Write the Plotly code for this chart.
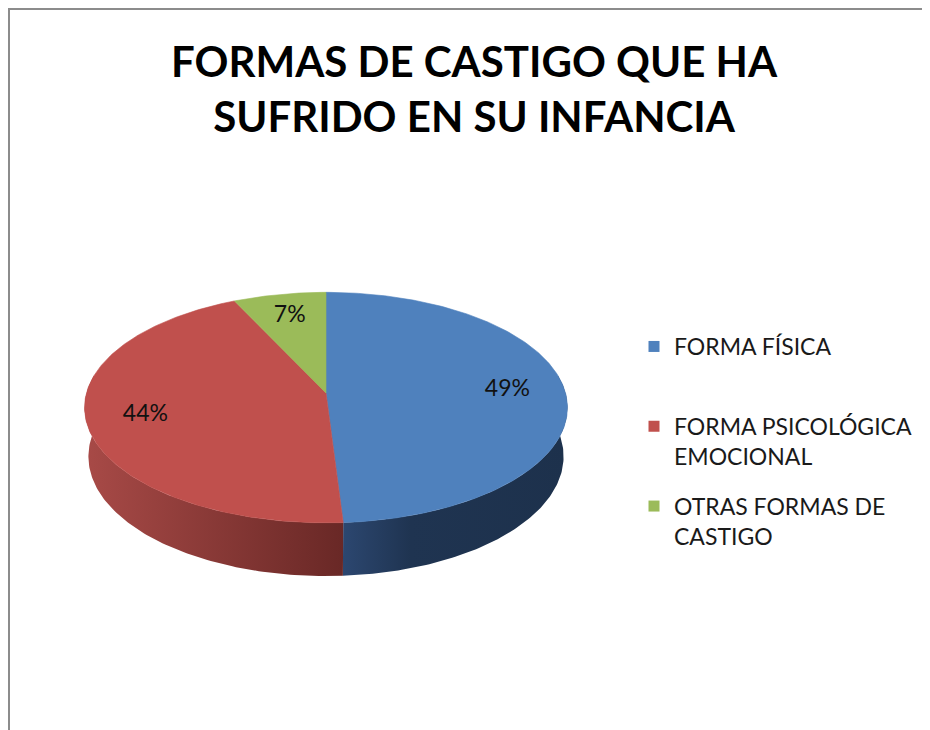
import numpy as np
import plotly.graph_objects as go

# ---------------- data ----------------
categories = ["FORMA FÍSICA", "FORMA PSICOLÓGICA EMOCIONAL", "OTRAS FORMAS DE CASTIGO"]
legend_labels = ["FORMA FÍSICA<br> ", "FORMA PSICOLÓGICA<br>EMOCIONAL", "OTRAS FORMAS DE<br>CASTIGO"]
values = [49, 44, 7]
title_text = "FORMAS DE CASTIGO QUE HA<br>SUFRIDO EN SU INFANCIA"

top_colors = ["#4F81BD", "#C0504D", "#9BBB59"]
side_scales = [
    [[0, "#2C4770"], [0.3, "#1F3451"], [1, "#1D314C"]],
    [[0, "#A84A47"], [1, "#692826"]],
    [[0, "#6E8A3C"], [1, "#4E6429"]],
]

# ---------------- 3D pie geometry (layout, pixels) ----------------
CX, CY = 326.0, 393.0         # projected pie centre
A = 239.5                     # projected radius scale
SIN_A, COS_A = 0.4735, 0.881  # view elevation
U = 0.1437                    # perspective strength (R / camera distance)
ETA = 0.234                   # pie thickness relative to radius
LABEL_R = 0.76

# page offset (browser body margin) and usable area
OFF = 8
X_END, Y_END = 930, 730


def proj(theta, r=1.0, depth=0.0):
    X = r * np.sin(theta)
    Z = r * np.cos(theta)
    Y = -depth
    den = 1 + U * (-Y * SIN_A + Z * COS_A)
    up = Y * COS_A + Z * SIN_A
    return CX + A * X / den, CY - A * up / den


total = float(sum(values))
fracs = [v / total for v in values]
starts = np.concatenate([[0.0], np.cumsum(fracs)[:-1]]) * 2 * np.pi
ends = np.cumsum(fracs) * 2 * np.pi

fig = go.Figure()

# chart-area frame (left and top edges visible in the crop)
fig.add_trace(go.Scatter(
    x=[9, 9, X_END + 20], y=[Y_END + 20, 9, 9], mode="lines",
    line=dict(color="#8C8C8C", width=2), showlegend=False, hoverinfo="skip",
    cliponaxis=True))

# side walls (front part only)
vis_lo, vis_hi = 0.45 * np.pi, 1.55 * np.pi
for i in range(len(values)):
    a0, a1 = max(starts[i], vis_lo), min(ends[i], vis_hi)
    if a1 <= a0:
        continue
    th = np.linspace(a0, a1, 120)
    tx, ty = proj(th)
    bx, by = proj(th[::-1], depth=ETA)
    xs = np.concatenate([tx, bx, tx[:1]])
    ys = np.concatenate([ty, by, ty[:1]])
    fig.add_trace(go.Scatter(
        x=xs, y=ys, mode="lines", fill="toself",
        line=dict(width=0, color=side_scales[i][-1][1]),
        fillgradient=dict(type="horizontal", colorscale=side_scales[i]),
        showlegend=False, hoverinfo="skip"))

# top faces
for i in range(len(values)):
    th = np.linspace(starts[i], ends[i], 200)
    ax, ay = proj(th)
    xs = np.concatenate([[CX], ax, [CX]])
    ys = np.concatenate([[CY], ay, [CY]])
    fig.add_trace(go.Scatter(
        x=xs, y=ys, mode="lines", fill="toself",
        line=dict(width=0.6, color=top_colors[i]), fillcolor=top_colors[i],
        showlegend=False, hoverinfo="skip", name=categories[i]))

# data labels
mids = (starts + ends) / 2
lx, ly = proj(mids, r=LABEL_R)
fig.add_trace(go.Scatter(
    x=lx, y=ly, mode="text",
    text=[f"{round(f * 100)}%" for f in fracs],
    textfont=dict(family="Lato", size=23, color="#111111"),
    showlegend=False, hoverinfo="skip"))

# legend entries
for i in range(len(values)):
    fig.add_trace(go.Scatter(
        x=[None], y=[None], mode="markers",
        marker=dict(symbol="square", size=11, color=top_colors[i]),
        name=legend_labels[i], legendgroup=f"g{i}"))

PW, PH = X_END - OFF, Y_END - OFF
fig.update_layout(
    width=PW, height=PH,
    margin=dict(l=0, r=0, t=0, b=0, pad=0),
    paper_bgcolor="white", plot_bgcolor="white",
    xaxis=dict(range=[OFF, X_END], visible=False, fixedrange=True),
    yaxis=dict(range=[Y_END, OFF], visible=False, fixedrange=True),
    annotations=[dict(text=title_text, x=474, y=34, xref="x", yref="y",
                      xanchor="center", yanchor="top", showarrow=False,
                      font=dict(family="Lato", size=42, color="#000000", weight="bold"))],
    legend=dict(x=(634 - OFF) / PW, y=1 - (325 - OFF) / PH,
                xanchor="left", yanchor="top",
                font=dict(family="Lato", size=23, color="#1A1A1A"),
                valign="top", tracegroupgap=17, bgcolor="rgba(0,0,0,0)"),
)

fig.write_html("out.html")
